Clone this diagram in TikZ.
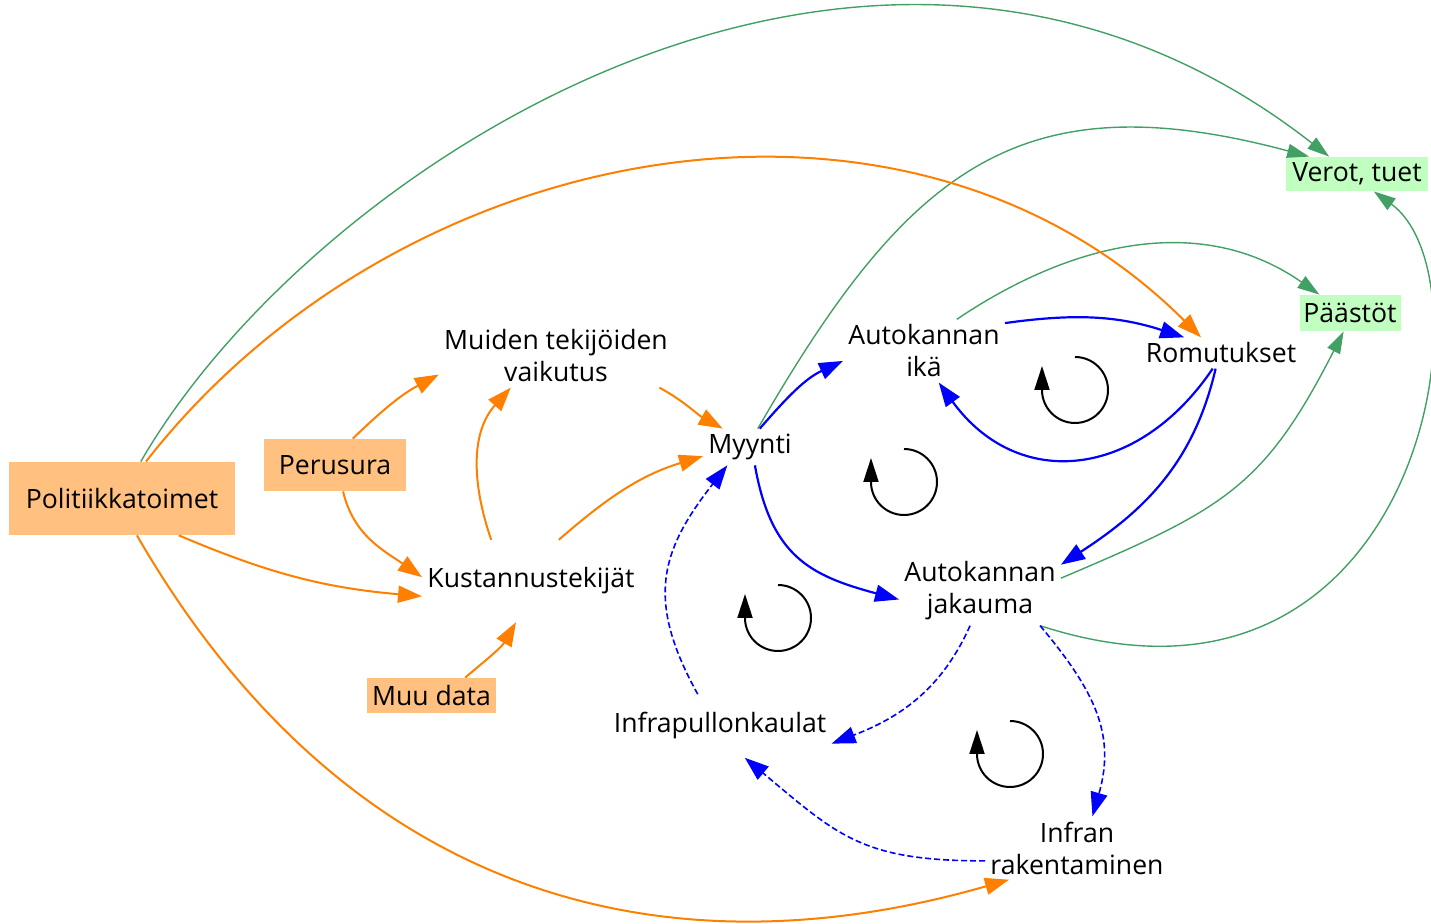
\documentclass[tikz,border=0pt]{standalone}
\usepackage{fontspec}
\setmainfont{Open Sans}
\usetikzlibrary{arrows.meta}
\definecolor{orng}{HTML}{FF8000}
\definecolor{orngbox}{HTML}{FFC080}
\definecolor{gren}{HTML}{43A064}
\definecolor{grenbox}{HTML}{C0FFC0}
\begin{document}
\begin{tikzpicture}[x=0.5pt,y=0.5pt,>={Triangle[length=12pt,width=8.5pt]},
  every node/.style={font=\fontsize{13.3}{16}\selectfont},
  vname/.style={align=center,inner sep=2.5pt},
  inbox/.style={fill=orngbox,inner sep=1pt},
  outbox/.style={fill=grenbox,inner sep=1pt},
  oarr/.style={orng,line width=1pt,->},
  garr/.style={gren,line width=0.7pt,-{Triangle[length=11pt,width=7pt]}},
  barr/.style={blue,line width=1.1pt,->},
  bdash/.style={blue,line width=0.8pt,dash pattern=on 3pt off 1.5pt,->},
  loopsym/.style={line width=1pt,-{Triangle[length=12pt,width=7.5pt]}}]
 \useasboundingbox (0,0) rectangle (1431,924);
 \node[inbox,minimum width=113pt,minimum height=36.5pt] (poli) at (122,425.5) {Politiikkatoimet};
 \node[inbox,minimum width=71pt,minimum height=26pt] (perus) at (335,459) {Perusura};
 \node[inbox,minimum width=64.5pt,minimum height=17.5pt] (muu) at (431.5,228.5) {Muu data};
 \node[vname] (muiden) at (556,568) {Muiden tekijöiden\\vaikutus};
 \node[vname,inner ysep=13.75pt] (kust) at (531,343) {Kustannustekijät};
 \node[vname] (myynti) at (750,477) {Myynti};
 \node[vname] (ika) at (924,573) {Autokannan\\ikä};
 \node[vname] (romu) at (1221,571) {Romutukset};
 \node[outbox,minimum width=71pt,minimum height=17pt] (verot) at (1357,750) {Verot, tuet};
 \node[outbox,minimum width=50.5pt,minimum height=18pt] (paastot) at (1350,611) {Päästöt};
 \node[vname] (jakauma) at (980,333) {Autokannan\\jakauma};
 \node[vname,inner ysep=9pt] (pullon) at (720,198) {Infrapullonkaulat};
 \node[vname] (rakent) at (1077,76) {Infran\\rakentaminen};

 \draw[garr] (poli.63) to[out=60,in=142,out distance=170pt,in distance=290pt] (verot.148);
 \draw[garr] (myynti.67) to[out=60,in=165,distance=150pt] (verot.160);
 \draw[garr] (ika.44) to[out=34,in=145] (paastot.149);
 \draw[garr] (jakauma.9) to[out=23,in=243,looseness=1.2] (paastot.-109);
 \draw[garr] (jakauma.-30) to[out=-18,in=324,out distance=200pt,in distance=75pt] (verot.-46);

 \draw[oarr] (poli.57) to[out=52,in=135] (romu.142);
 \draw[oarr] (poli.-33) to[out=-23,in=175] (kust.188);
 \draw[oarr] (poli.-68) to[out=-60,in=196,out distance=200pt,in distance=190pt] (rakent.205);
 \draw[oarr] (perus.56) to[out=44,in=208] (muiden.189);
 \draw[oarr] (perus.-73) to[out=-77,in=145] (kust.178);
 \draw[oarr] (muu.28) to[out=40,in=240] (kust.250);
 \draw[oarr] (kust.134) to[out=109,in=228] (muiden.215);
 \draw[oarr] (kust.56) to[out=41,in=197] (myynti.191);
 \draw[oarr] (muiden.-17) to[out=-29,in=151] (myynti.146);

 \draw[barr] (myynti.62) to[out=49,in=205] (ika.187);
 \draw[barr] (myynti.-75) to[out=-80,in=165,looseness=1.2] (jakauma.186);
 \draw[barr] (ika.19) to[out=8,in=162] (romu.157);
 \draw[barr] (romu.242) to[out=236,in=306,looseness=1.25] (ika.-65);
 \draw[barr] (romu.251) to[out=257,in=33] (jakauma.18);
 \draw[bdash] (jakauma.254) to[out=246,in=21] (pullon.-9);
 \draw[bdash] (jakauma.-30) to[out=-50,in=74,looseness=1.1] (rakent.64);
 \draw[bdash] (rakent.188) to[out=180,in=320,looseness=1.2] (pullon.-52);
 \draw[bdash] (pullon.125) to[out=119,in=232,looseness=1.2] (myynti.219);

 \foreach \n/\x/\y in {la/1075/534,lb/904/442,lc/778/306,ld/1010/170}{
  \coordinate (\n) at (\x,\y);
  \draw[loopsym] (\n) ++(0,33) arc[start angle=90,end angle=-180,radius=33] -- ++(0,24);}
\end{tikzpicture}
\end{document}
